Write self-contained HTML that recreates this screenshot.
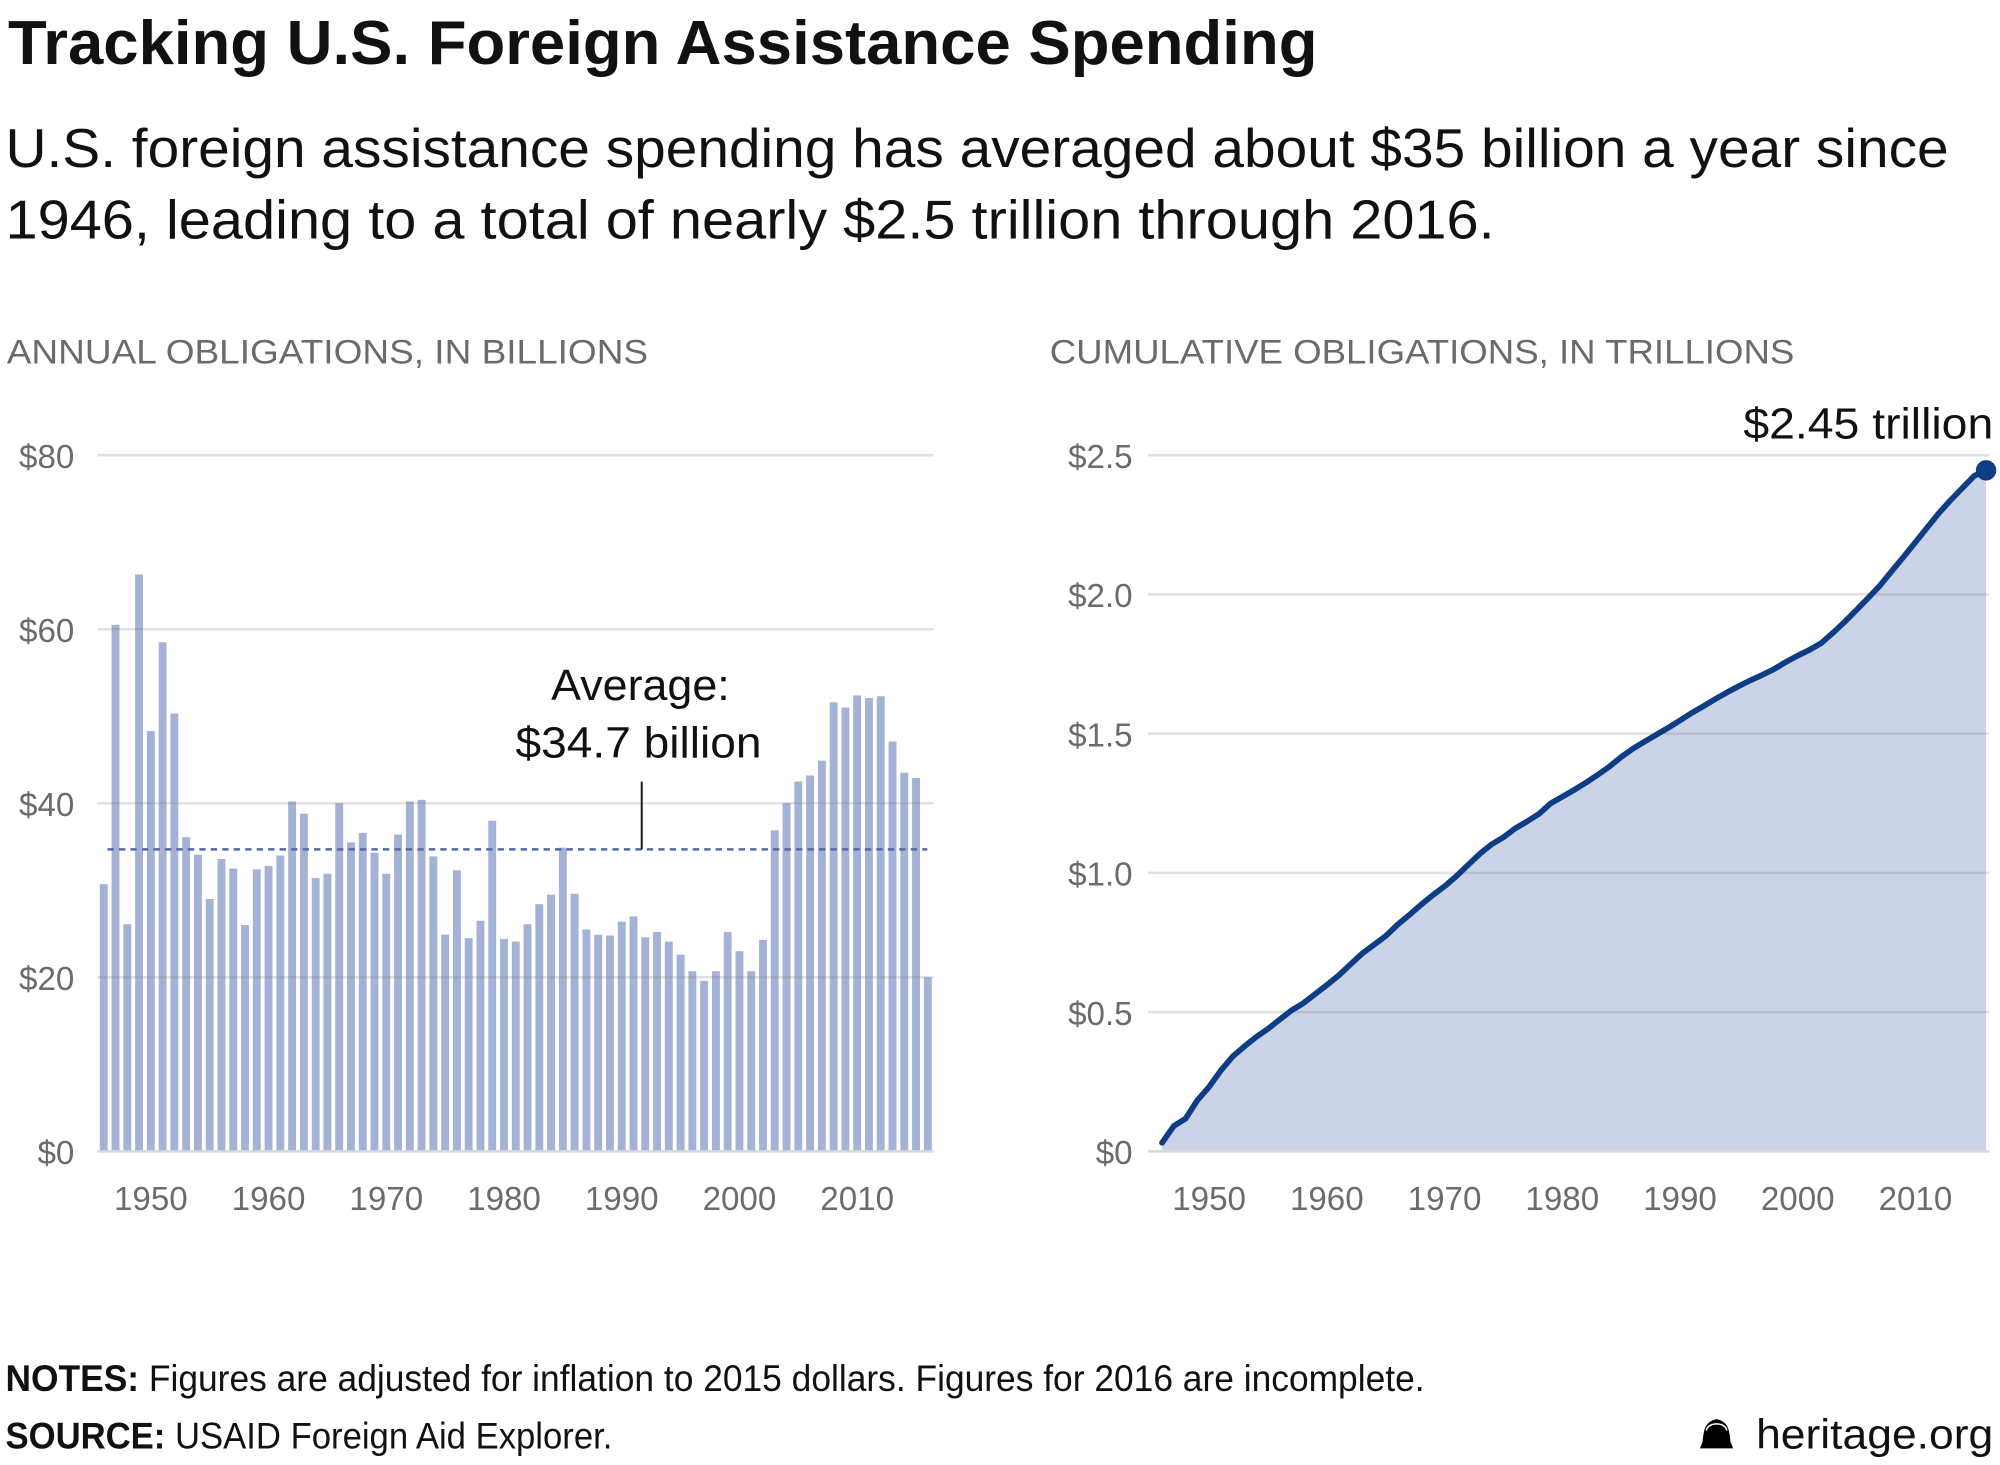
<!DOCTYPE html>
<html><head><meta charset="utf-8">
<style>
html,body{margin:0;padding:0;background:#fff;}
svg{display:block;}
text{font-family:"Liberation Sans",sans-serif;}
.tick{fill:#6b6b6b;font-size:26px;}
.sec{fill:#6b6b6b;font-size:27px;}
.narrow{font-family:"Liberation Sans Narrow","Liberation Sans",sans-serif;}
</style></head>
<body>
<svg id="chart" width="2000" height="1465" viewBox="0 0 1568 1149" xmlns="http://www.w3.org/2000/svg">
<text x="6" y="50" font-size="49" font-weight="bold" fill="#111" textLength="1027" lengthAdjust="spacingAndGlyphs">Tracking U.S. Foreign Assistance Spending</text>
<text x="4" y="131" font-size="43" fill="#111" textLength="1524" lengthAdjust="spacingAndGlyphs">U.S. foreign assistance spending has averaged about $35 billion a year since</text>
<text x="4" y="187" font-size="43" fill="#111" textLength="1168" lengthAdjust="spacingAndGlyphs">1946, leading to a total of nearly $2.5 trillion through 2016.</text>
<text class="sec" x="5" y="285" textLength="503" lengthAdjust="spacingAndGlyphs">ANNUAL OBLIGATIONS, IN BILLIONS</text>
<text class="sec" x="823" y="285" textLength="584" lengthAdjust="spacingAndGlyphs">CUMULATIVE OBLIGATIONS, IN TRILLIONS</text>
<g id="left"></g>
<g id="right"></g>
<text x="4" y="1091" font-size="29" fill="#111" class="narrow" textLength="1113" lengthAdjust="spacingAndGlyphs"><tspan font-weight="bold">NOTES:</tspan> Figures are adjusted for inflation to 2015 dollars. Figures for 2016 are incomplete.</text>
<text x="4" y="1136" font-size="29" fill="#111" class="narrow" textLength="476" lengthAdjust="spacingAndGlyphs"><tspan font-weight="bold">SOURCE:</tspan> USAID Foreign Aid Explorer.</text>
<g>
<path d="M1333,1136 L1359,1136 L1357,1131 C1356,1123 1356,1115 1346,1113 C1336,1115 1336,1123 1335,1131 Z" fill="#000"/>
<path d="M1338,1122 C1339,1115 1353,1115 1354,1122" fill="none" stroke="#fff" stroke-width="1.2"/>
</g>
<text x="1563" y="1136" font-size="33" fill="#111" text-anchor="end" textLength="186" lengthAdjust="spacingAndGlyphs">heritage.org</text>
</svg>
<script>
const years = [];
for (let y = 1946; y <= 2016; y++) years.push(y);
const annualValues = [30.7,60.5,26.1,66.3,48.3,58.5,50.3,36.1,34.1,29.0,33.6,32.5,26.0,32.4,32.8,34.0,40.2,38.8,31.4,31.9,40.0,35.5,36.6,34.3,31.9,36.4,40.2,40.4,33.9,24.9,32.3,24.5,26.5,38.0,24.4,24.1,26.1,28.4,29.5,34.9,29.6,25.5,24.9,24.8,26.4,27.0,24.6,25.2,24.1,22.6,20.7,19.6,20.7,25.2,23.0,20.7,24.3,36.9,40.0,42.5,43.2,44.9,51.6,51.0,52.4,52.1,52.3,47.1,43.5,42.9,20.0];
const averageValue = 34.7;
const leftTicks = [0,20,40,60,80];
const leftTickLabels = ["$0","$20","$40","$60","$80"];
const rightTicks = [0,0.5,1.0,1.5,2.0,2.5];
const rightTickLabels = ["$0","$0.5","$1.0","$1.5","$2.0","$2.5"];
const xTickYears = [1950,1960,1970,1980,1990,2000,2010];
const endLabel = "$2.45 trillion";

const NS = "http://www.w3.org/2000/svg";
function mk(tag, attrs, parent, txt){const e=document.createElementNS(NS,tag);for(const k in attrs)e.setAttribute(k,attrs[k]);if(txt!==undefined)e.textContent=txt;parent.appendChild(e);return e;}

const y0 = 903, yTop = 357;
const xL = yr => 118 + (yr-1950)*9.233;
const yL = v => y0 - v/80*(y0-yTop);
const xR = yr => 948 + (yr-1950)*9.233;
const yR = v => y0 - v/2.5*(y0-yTop);

const L = document.getElementById('left');
const R = document.getElementById('right');

years.forEach((yr,i)=>{
  const v = annualValues[i];
  const r = mk('rect',{x:xL(yr)-3.1,y:yL(v),width:6.2,height:y0-yL(v),fill:'#a4b2d5'},L);
  
  
});
leftTicks.forEach((t,i)=>{
  const g = mk('line',{x1:76,x2:732,y1:yL(t),y2:yL(t),stroke:t===0?'#d8d8d8':'rgba(120,120,120,0.22)','stroke-width':2},L);
  
  
  const tx = mk('text',{x:58,y:yL(t)+10,'text-anchor':'end',class:'tick'},L,leftTickLabels[i]);
  
  
});
xTickYears.forEach(yr=>{
  const tx = mk('text',{x:xL(yr),y:949,'text-anchor':'middle',class:'tick'},L,String(yr));
  
  
});
const avg = mk('line',{x1:84,x2:727,y1:yL(averageValue),y2:yL(averageValue),stroke:'#5568a8','stroke-width':2,'stroke-dasharray':'5,4'},L);


const lead = mk('line',{x1:503,x2:503,y1:613,y2:yL(averageValue),stroke:'#111','stroke-width':1.5},L);


const a1 = mk('text',{x:432,y:549,'font-size':34,fill:'#111',textLength:140,lengthAdjust:'spacingAndGlyphs'},L,'Average:');


const a2 = mk('text',{x:404,y:594,'font-size':34,fill:'#111',textLength:193,lengthAdjust:'spacingAndGlyphs'},L,'$'+averageValue.toFixed(1)+' billion');



let s = 0; const cum = annualValues.map(v => (s += v)/1000);
let d = '';
years.forEach((yr,i)=>{ d += (i?'L':'M')+xR(yr).toFixed(1)+','+yR(cum[i]).toFixed(1); });
const last = years.length-1;
const area = mk('path',{d:d+'L'+xR(years[last])+','+y0+'L'+xR(years[0])+','+y0+'Z',fill:'#cbd3e7'},R);


rightTicks.forEach((t,i)=>{
  const g = mk('line',{x1:900,x2:1560,y1:yR(t),y2:yR(t),stroke:t===0?'#d8d8d8':'rgba(120,120,120,0.22)','stroke-width':2},R);
  
  
  const tx = mk('text',{x:888,y:yR(t)+10,'text-anchor':'end',class:'tick'},R,rightTickLabels[i]);
  
  
});
xTickYears.forEach(yr=>{
  const tx = mk('text',{x:xR(yr),y:949,'text-anchor':'middle',class:'tick'},R,String(yr));
  
  
});
const ln = mk('path',{d:d,fill:'none',stroke:'#0d3d85','stroke-width':4.5,'stroke-linejoin':'round','stroke-linecap':'round'},R);


const dot = mk('circle',{cx:xR(years[last]),cy:yR(cum[last]),r:8,fill:'#0d3d85'},R);


const el = mk('text',{x:1367,y:344,'font-size':34,fill:'#111',textLength:196,lengthAdjust:'spacingAndGlyphs'},R,endLabel);


</script>
</body></html>
